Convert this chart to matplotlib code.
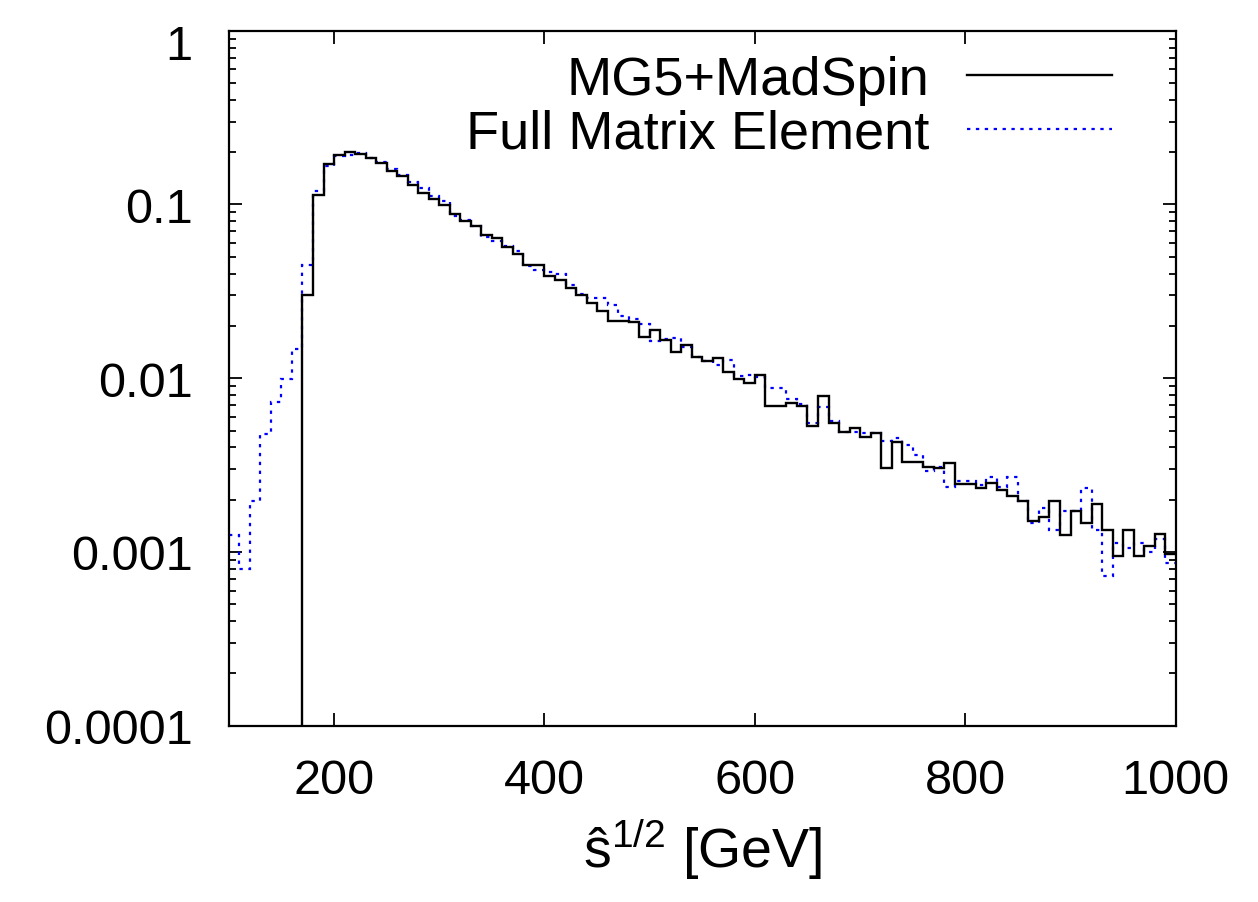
import numpy as np
import matplotlib
matplotlib.use("Agg")
import matplotlib.pyplot as plt
import matplotlib.transforms as mtransforms
from matplotlib.ticker import FixedLocator, LogLocator, NullFormatter, FixedFormatter

plt.rcParams['font.family'] = ['Liberation Sans', 'DejaVu Sans']
plt.rcParams['mathtext.fontset'] = 'custom'
plt.rcParams['mathtext.rm'] = 'Liberation Sans'
plt.rcParams['mathtext.it'] = 'Liberation Sans'

# bin edges in GeV (10 GeV bins from 100 to 1000)
edges = np.arange(100, 1001, 10)

# MG5+MadSpin (zero below 170 GeV)
madspin = [
    0, 0, 0, 0, 0, 0, 0,
    0.030, 0.114, 0.170, 0.193, 0.201, 0.195, 0.184, 0.173, 0.155, 0.145, 0.129, 0.117, 0.107,
    0.0997, 0.0878, 0.080, 0.0749, 0.067, 0.0641, 0.0572, 0.0519, 0.0448, 0.0448,
    0.0386, 0.0367, 0.0329, 0.0302, 0.0271, 0.0243, 0.0214, 0.0214, 0.0212, 0.0172,
    0.019, 0.0166, 0.0142, 0.0155, 0.0132, 0.0125, 0.013, 0.0109, 0.0099, 0.00935,
    0.0104, 0.00689, 0.00689, 0.0072, 0.00695, 0.00529, 0.00793, 0.0055, 0.00492, 0.00517,
    0.00461, 0.00484, 0.00303, 0.00431, 0.00328, 0.00328, 0.0031, 0.00303, 0.00324, 0.00246,
    0.00246, 0.00232, 0.00248, 0.00228, 0.00209, 0.00196, 0.00151, 0.00158, 0.00196, 0.00126,
    0.00171, 0.00147, 0.0019, 0.00133, 0.00095, 0.00133, 0.00095, 0.00108, 0.00127, 0.00097,
]

# Full matrix element
full_me = [
    0.00126, 0.000798, 0.00197, 0.00478, 0.00727, 0.0099, 0.0147,
    0.045, 0.120, 0.166, 0.191, 0.193, 0.197, 0.184, 0.175, 0.16, 0.148, 0.134, 0.124, 0.112,
    0.104, 0.0855, 0.0814, 0.0752, 0.065, 0.0618, 0.058, 0.0541, 0.0445, 0.042,
    0.041, 0.0399, 0.0345, 0.0305, 0.029, 0.029, 0.0263, 0.0229, 0.0218, 0.0205,
    0.0164, 0.0168, 0.0170, 0.0151, 0.0132, 0.0126, 0.0119, 0.0127, 0.0103, 0.0104,
    0.0102, 0.00875, 0.0088, 0.0076, 0.00708, 0.00552, 0.0068, 0.00569, 0.0049, 0.0049,
    0.00486, 0.00486, 0.00435, 0.0045, 0.00412, 0.00363, 0.00291, 0.00307, 0.00238, 0.00257,
    0.00257, 0.00243, 0.00269, 0.00238, 0.0027, 0.00196, 0.00146, 0.00178, 0.00133, 0.00171,
    0.00172, 0.00232, 0.00134, 0.00073, 0.00113, 0.00105, 0.00112, 0.001, 0.00119, 0.00086,
]

xticks = [200, 400, 600, 800, 1000]
yticks = [1e-4, 1e-3, 1e-2, 1e-1, 1]
ytick_labels = ['0.0001', '0.001', '0.01', '0.1', '1']

fig = plt.figure(figsize=(12.58, 9.03), dpi=100)
ax = fig.add_axes([0.1819, 0.1952, 0.9346 - 0.1819, 0.9649 - 0.1952])

ax.stairs(madspin, edges, baseline=None, color='black', lw=1.7,
          label='MG5+MadSpin', zorder=3)
ax.stairs(full_me, edges, baseline=None, color='#0000ff', lw=1.6,
          linestyle=(0, (1.5, 2.5)), label='Full Matrix Element', zorder=2)

ax.set_yscale('log')
ax.set_xlim(100, 1000)
ax.set_ylim(1e-4, 1)

ax.xaxis.set_major_locator(FixedLocator(xticks))
ax.yaxis.set_major_locator(FixedLocator(yticks))
ax.yaxis.set_major_formatter(FixedFormatter(ytick_labels))
ax.yaxis.set_minor_locator(LogLocator(base=10, subs=np.arange(2, 10)))
ax.yaxis.set_minor_formatter(NullFormatter())

ax.tick_params(which='both', direction='in', top=True, right=True, width=1.3)
ax.tick_params(which='major', length=9.5)
ax.tick_params(which='minor', length=5)
ax.tick_params(axis='y', which='major', labelsize=35, pad=26)
ax.tick_params(axis='x', which='major', labelsize=35, pad=23)
for s in ax.spines.values():
    s.set_linewidth(1.6)

ax.set_xlabel('ŝ$^{1/2}$ [GeV]', fontsize=40, labelpad=10)

ax.legend(loc='upper right', bbox_to_anchor=(0.9327, 0.9655), frameon=False,
          fontsize=39, markerfirst=False, handlelength=2.67, handletextpad=0.7,
          borderpad=0, borderaxespad=0, labelspacing=0.07)

# the top label "1" sits a little below its tick in the original
fig.canvas.draw()
top_label = ax.yaxis.get_major_ticks()[-1].label1
top_label.set_transform(top_label.get_transform() +
                        mtransforms.ScaledTranslation(0, -0.11, fig.dpi_scale_trans))

fig.savefig('out.png', dpi=100)
